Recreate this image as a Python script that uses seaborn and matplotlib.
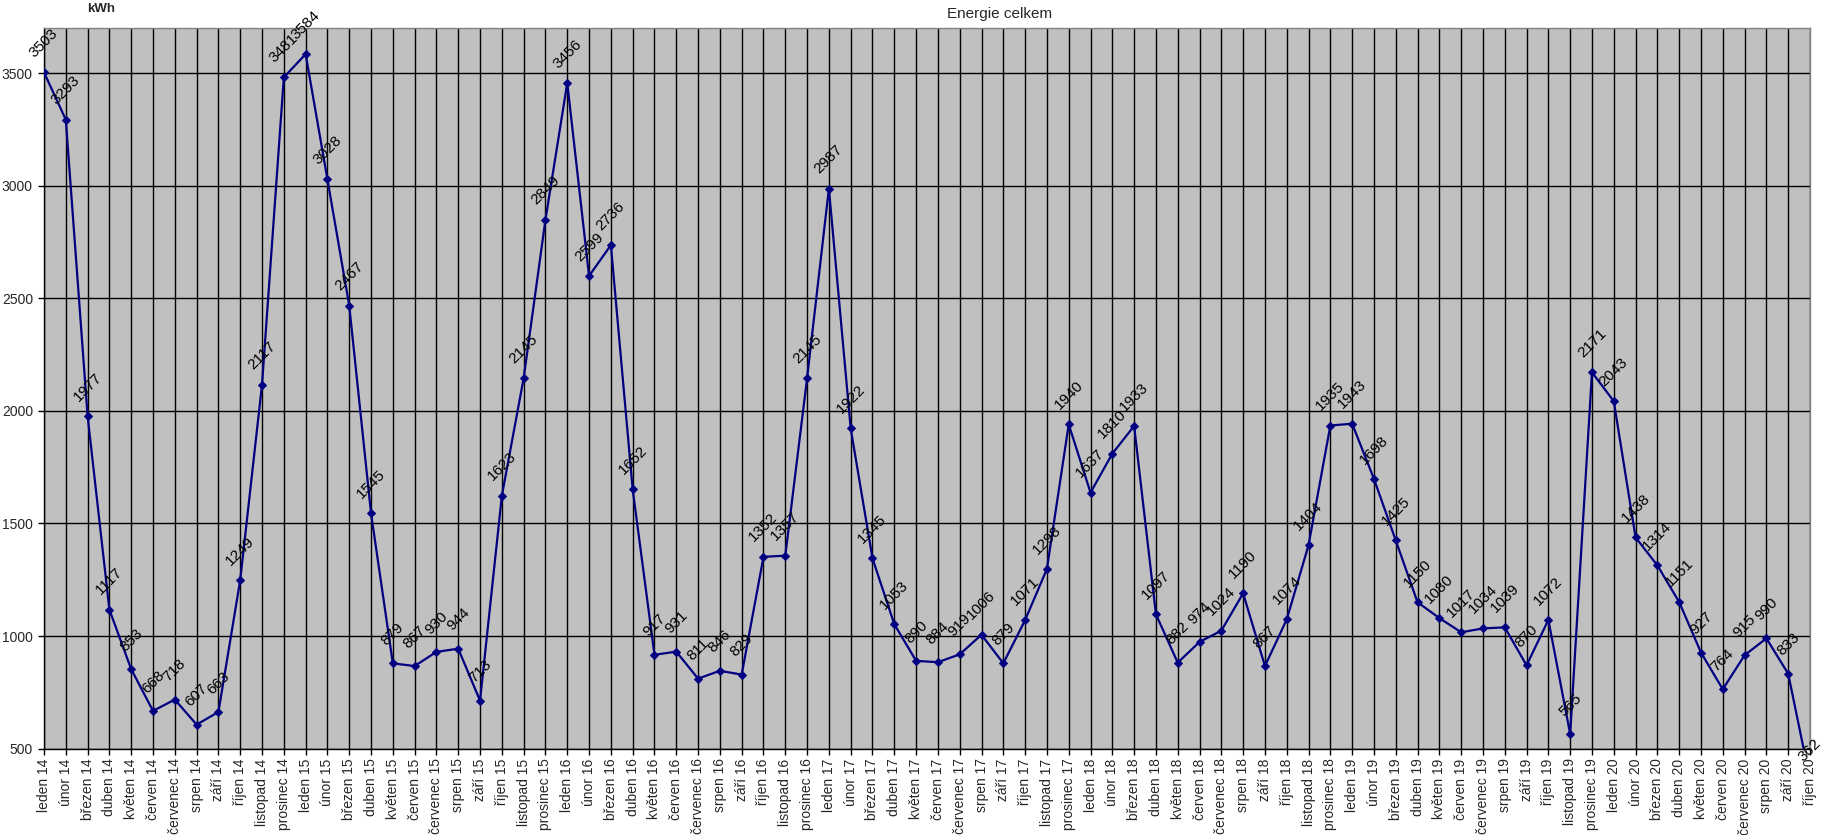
import matplotlib
matplotlib.use("Agg")
import matplotlib.pyplot as plt
import seaborn as sns
import numpy as np
import pandas as pd

months = ["leden", "únor", "březen", "duben", "květen", "červen",
          "červenec", "srpen", "září", "říjen", "listopad", "prosinec"]
years = ["14", "15", "16", "17", "18", "19", "20"]

v2014 = [3503, 3293, 1977, 1117, 853, 668, 718, 607, 663, 1249, 2117, 3481]
v2015 = [3584, 3028, 2467, 1545, 879, 867, 930, 944, 713, 1623, 2145, 2849]
v2016 = [3456, 2599, 2736, 1652, 917, 931, 811, 846, 829, 1352, 1357, 2145]
v2017 = [2987, 1922, 1345, 1053, 890, 884, 919, 1006, 879, 1071, 1298, 1940]
v2018 = [1637, 1810, 1933, 1097, 882, 974, 1024, 1190, 867, 1074, 1404, 1935]
v2019 = [1943, 1698, 1425, 1150, 1080, 1017, 1034, 1039, 870, 1072, 565, 2171]
v2020 = [2043, 1438, 1314, 1151, 927, 764, 915, 990, 833, 362]

values = v2014 + v2015 + v2016 + v2017 + v2018 + v2019 + v2020
labels = [f"{m} {y}" for y in years for m in months][:len(values)]

y_ticks = [500, 1000, 1500, 2000, 2500, 3000, 3500]

df = pd.DataFrame({"idx": np.arange(len(values)), "label": labels, "kwh": values})

sns.set_theme(style="white")
plt.rcParams["font.family"] = ["Liberation Sans", "DejaVu Sans"]

fig = plt.figure(figsize=(18.32, 8.35), dpi=100)
ax = fig.add_axes([44 / 1832, 1 - 748.7 / 835, (1810 - 44) / 1832, (748.7 - 28) / 835])
ax.set_facecolor("#C0C0C0")

sns.lineplot(data=df, x="idx", y="kwh", ax=ax, sort=False, color="#000080",
             linewidth=1.6, marker="D", markersize=4.2, markeredgecolor="#000080",
             markerfacecolor="#000080", zorder=3)

for i, v in zip(df["idx"], df["kwh"]):
    ax.annotate(str(v), (i, v), xytext=(0, 21), textcoords="offset points",
                rotation=45, ha="center", va="center", fontsize=11,
                color="black", annotation_clip=False, clip_on=False, zorder=4)

ax.set_xlim(0, len(values) - 1)
ax.set_ylim(500, 3700)
ax.set_xticks(df["idx"])
ax.set_xticklabels(labels, rotation=90, fontsize=10, va="top")
ax.set_yticks(y_ticks)
ax.set_yticklabels([str(t) for t in y_ticks], fontsize=10)
ax.tick_params(axis="both", direction="out", length=4, width=1, color="black",
               left=True, bottom=True, pad=3)
ax.tick_params(axis="y", pad=4)

ax.grid(True, color="black", linewidth=1)
ax.set_axisbelow(True)
for s in ["top", "right"]:
    ax.spines[s].set_color("#808080")
    ax.spines[s].set_linewidth(1)
for s in ["left", "bottom"]:
    ax.spines[s].set_color("black")
    ax.spines[s].set_linewidth(1)

ax.set_xlabel("")
ax.set_ylabel("")

fig.text(1000 / 1832, 1 - 14 / 835, "Energie celkem", ha="center", va="center",
         fontsize=11)
fig.text(101 / 1832, 1 - 9 / 835, "kWh", ha="center", va="center",
         fontsize=9.5, fontweight="bold")

fig.savefig("out.png", dpi=100, facecolor="white")
